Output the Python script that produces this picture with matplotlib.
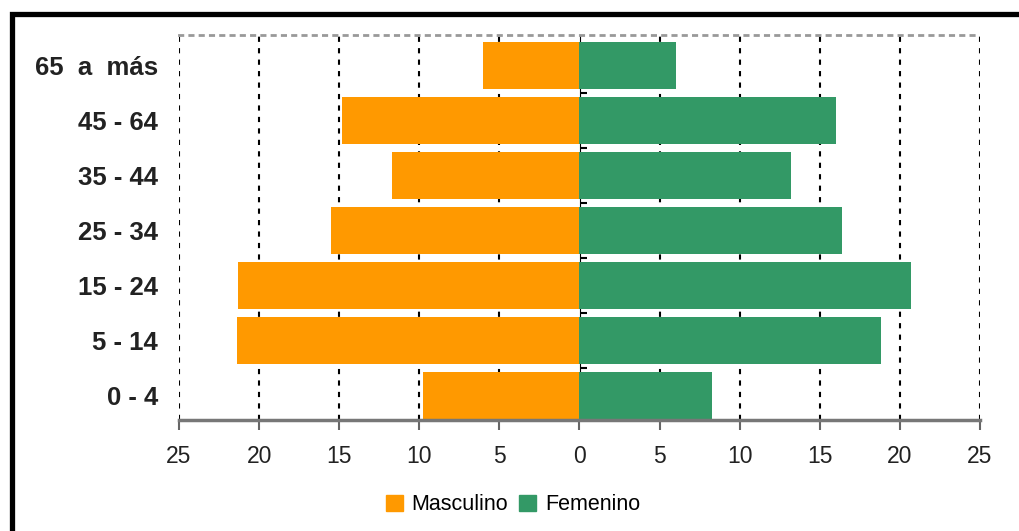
import matplotlib
matplotlib.use("Agg")
import matplotlib.pyplot as plt
from matplotlib.patches import Rectangle, Patch
import numpy as np

plt.rcParams['font.family'] = ['Liberation Sans', 'DejaVu Sans']

# Population by age group (%)
age_groups = ["0 - 4", "5 - 14", "15 - 24", "25 - 34", "35 - 44", "45 - 64", "65  a  más"]
masculino = [9.8, 21.4, 21.3, 15.5, 11.7, 14.8, 6.0]
femenino = [8.3, 18.8, 20.7, 16.4, 13.2, 16.0, 6.0]
x_ticks = [-25, -20, -15, -10, -5, 0, 5, 10, 15, 20, 25]
x_tick_labels = [str(abs(v)) for v in x_ticks]

col_m = "#FF9900"
col_f = "#339966"

fig = plt.figure(figsize=(10.2, 5.31), dpi=100)
ax = fig.add_axes([179 / 1020, 1 - 420 / 531, 801 / 1020, 385 / 531])

y = np.arange(len(age_groups))
ax.barh(y, [-v for v in masculino], height=0.85, color=col_m, zorder=2)
ax.barh(y, femenino, height=0.85, color=col_f, zorder=2)

# dashed vertical grid
for v in x_ticks:
    if v != 0:
        ax.axvline(v, color="black", lw=1.5, ls=(0, (2.5, 3)), zorder=1)

ax.set_xlim(-25, 25)
ax.set_ylim(-0.45, 6.55)
ax.set_xticks(x_ticks)
ax.set_xticklabels(x_tick_labels, fontsize=16.5, color="#222222")
ax.set_yticks(y)
ax.set_yticklabels(age_groups, fontsize=18.5, fontweight="bold", color="#222222")
ax.tick_params(axis="y", length=0, pad=15)
ax.tick_params(axis="x", direction="out", length=7, width=1.5, color="#666666", pad=11)

for s in ("left", "right"):
    ax.spines[s].set_visible(False)
ax.spines["top"].set_linestyle((0, (1.2, 2.5)))
ax.spines["top"].set_color("#999999")
ax.spines["top"].set_linewidth(2.0)
ax.spines["bottom"].set_color("#777777")
ax.spines["bottom"].set_linewidth(2.5)

# central axis with category separators
sec = ax.secondary_yaxis(0.5)
sec.set_yticks([i + 0.5 for i in range(len(age_groups) - 1)])
sec.set_yticklabels([])
sec.tick_params(length=5, width=1.5, color="black", direction="out")
sec.spines["left"].set_linewidth(1.8)
sec.spines["left"].set_color("black")

handles = [Patch(color=col_m, label="Masculino"), Patch(color=col_f, label="Femenino")]
fig.legend(handles=handles, loc="center", bbox_to_anchor=(513 / 1020, 1 - 505 / 531),
           ncol=2, frameon=False, fontsize=15.5, handlelength=0.8, handleheight=0.8,
           handletextpad=0.4, columnspacing=0.5)

# outer frame
frame = Rectangle((12 / 1020, -0.5), 2.0, 0.5 + 1 - 14 / 531, transform=fig.transFigure,
                  fill=False, edgecolor="black", lw=3.8, clip_on=False)
fig.patches.append(frame)

fig.savefig("out.png", dpi=100, facecolor="white")
